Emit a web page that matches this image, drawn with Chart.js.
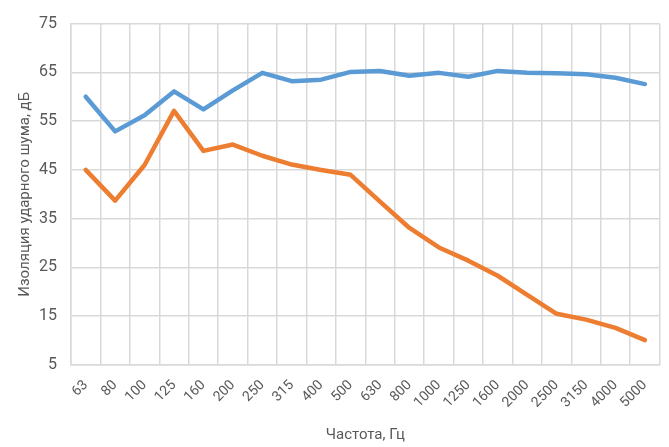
<!DOCTYPE html>
<html>
<head>
<meta charset="utf-8">
<script src="https://cdn.jsdelivr.net/npm/chart.js@4/dist/chart.umd.min.js"></script>
<style>
html,body{margin:0;padding:0;background:#fff;}
#wrap{width:669px;height:447px;position:relative;}
</style>
</head>
<body>
<div id="wrap"><canvas id="c" width="669" height="447"></canvas></div>
<script>
const categories = ["63","80","100","125","160","200","250","315","400","500","630","800","1000","1250","1600","2000","2500","3150","4000","5000"];
const seriesBlue = [60, 52.9, 56.2, 61.1, 57.4, 61.3, 64.9, 63.2, 63.5, 65.1, 65.3, 64.3, 64.9, 64.1, 65.3, 64.9, 64.8, 64.6, 63.9, 62.6];
const seriesOrange = [45, 38.7, 46, 57.1, 48.9, 50.2, 47.9, 46.1, 45.0, 44, 38.5, 33.1, 29.1, 26.4, 23.3, 19.4, 15.5, 14.3, 12.6, 10.1];
const yTicks = [5, 15, 25, 35, 45, 55, 65, 75];
const xTitle = "Частота, Гц";
const yTitle = "Изоляция ударного шума, дБ";

const textColor = "#595959";
const gridColor = "#D9D9D9";
const font = "Roboto";

new Chart(document.getElementById("c"), {
  type: "line",
  data: {
    labels: categories,
    datasets: [
      {data: seriesBlue, borderColor: "#5B9BD5", borderWidth: 4.5, pointRadius: 0, tension: 0, borderJoinStyle: "round", borderCapStyle: "round", fill: false},
      {data: seriesOrange, borderColor: "#ED7D31", borderWidth: 4.5, pointRadius: 0, tension: 0, borderJoinStyle: "round", borderCapStyle: "round", fill: false}
    ]
  },
  options: {
    responsive: false,
    animation: false,
    devicePixelRatio: 1,
    layout: {padding: {top: 20, right: 8, left: 0, bottom: 0}},
    plugins: {legend: {display: false}, tooltip: {enabled: false}},
    scales: {
      x: {
        offset: true,
        grid: {offset: true, color: gridColor, lineWidth: 1.5, drawTicks: false},
        border: {color: gridColor, width: 1.5},
        ticks: {color: textColor, font: {family: font, size: 14}, maxRotation: 45, minRotation: 45, padding: 12, autoSkip: false},
        title: {display: true, text: xTitle, color: textColor, font: {family: font, size: 15}, padding: {top: 0, bottom: 3}},
        afterFit: (s) => { s.height = 82; }
      },
      y: {
        min: 5, max: 75,
        afterBuildTicks: (s) => { s.ticks = yTicks.map(v => ({value: v})); },
        grid: {color: gridColor, lineWidth: 1.5, drawTicks: false},
        border: {color: gridColor, width: 1.5},
        ticks: {color: textColor, font: {family: font, size: 16}, padding: 14},
        title: {display: true, text: yTitle, color: textColor, font: {family: font, size: 15}, padding: {top: 16, bottom: 0}},
        afterFit: (s) => { s.width = 71; }
      }
    }
  }
});
</script>
</body>
</html>
